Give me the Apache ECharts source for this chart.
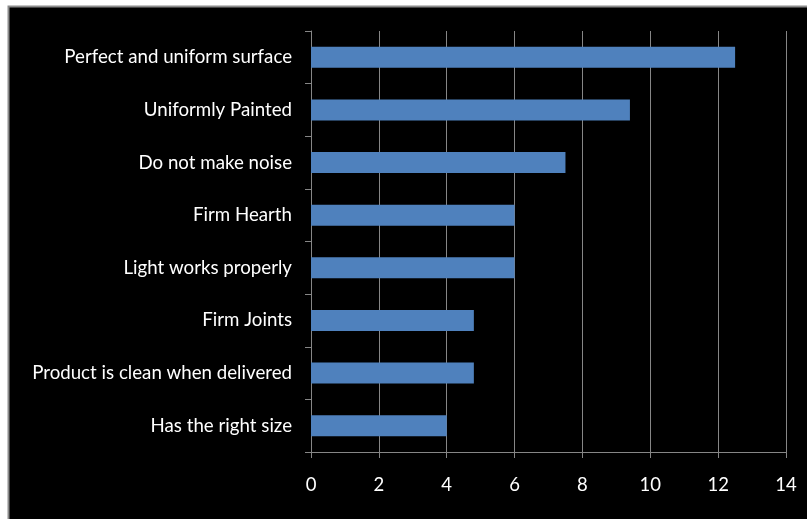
<!DOCTYPE html>
<html>
<head>
<meta charset="utf-8">
<style>
  html, body { margin: 0; padding: 0; background: #ffffff; }
  #chart { width: 807px; height: 519px; }
</style>
<script src="https://cdn.jsdelivr.net/npm/echarts@6/dist/echarts.min.js"></script>
</head>
<body>
<div id="chart"></div>
<script>
// Product attributes, listed top to bottom
const categories = [
  'Perfect and uniform surface',
  'Uniformly Painted',
  'Do not make noise',
  'Firm Hearth',
  'Light works properly',
  'Firm Joints',
  'Product is clean when delivered',
  'Has the right size'
];
const values = [12.5, 9.4, 7.5, 6, 6, 4.8, 4.8, 4];
const xTicks = { min: 0, max: 14, interval: 2 };

const FONT = 'Lato';
const chart = echarts.init(document.getElementById('chart'), null, { renderer: 'canvas' });

chart.setOption({
  backgroundColor: '#ffffff',
  animation: false,
  graphic: [{
    type: 'rect',
    z: -10,
    silent: true,
    shape: { x: 8.5, y: 6.5, width: 830, height: 530 },
    style: { fill: '#000000', stroke: '#8c8c8c', lineWidth: 2 }
  }],
  grid: { left: 311, top: 31, right: 21, bottom: 67, containLabel: false },
  xAxis: {
    type: 'value',
    min: xTicks.min,
    max: xTicks.max,
    interval: xTicks.interval,
    axisLine: { show: true, lineStyle: { color: '#868686', width: 1 } },
    axisTick: { show: true, length: 6, inside: false, lineStyle: { color: '#868686' } },
    splitLine: { show: true, lineStyle: { color: '#868686', width: 1 } },
    axisLabel: { color: '#ffffff', fontFamily: FONT, fontSize: 18.5, margin: 24 }
  },
  yAxis: {
    type: 'category',
    data: categories,
    inverse: true,
    axisLine: { show: true, lineStyle: { color: '#868686', width: 1 } },
    axisTick: { show: true, length: 6, alignWithLabel: false, lineStyle: { color: '#868686' } },
    axisLabel: { color: '#ffffff', fontFamily: FONT, fontSize: 18.7, margin: 19 }
  },
  series: [{
    type: 'bar',
    data: values,
    barCategoryGap: '60%',
    itemStyle: { color: '#4f81bd', borderColor: '#4a7ab5', borderWidth: 0 }
  }]
});
</script>
</body>
</html>
